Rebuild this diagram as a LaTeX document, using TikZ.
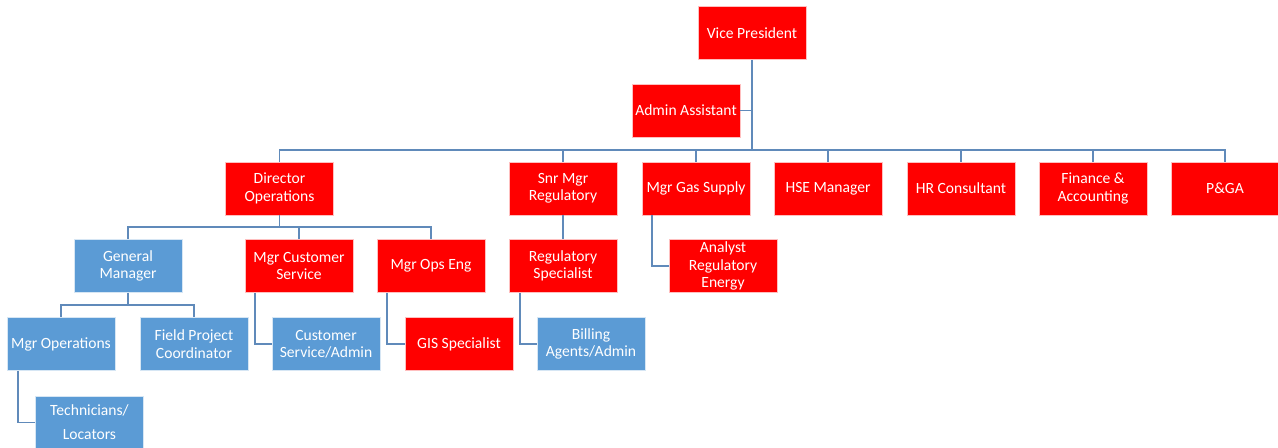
\documentclass[tikz,border=0pt]{standalone}
\usepackage{fontspec}
\setmainfont{Carlito}
\usetikzlibrary{calc}
\definecolor{boxred}{RGB}{255,0,0}
\definecolor{boxblue}{RGB}{91,155,213}
\definecolor{linkblue}{RGB}{96,138,186}
\begin{document}
\begin{tikzpicture}[x=0.75pt, y=-0.75pt,
  role/.style={minimum width=81pt, minimum height=39.75pt, inner sep=1pt,
    align=center, text=white, draw=white!75!boxred, line width=0.4pt,
    font=\fontsize{11.7}{13}\selectfont},
  redrole/.style={role, fill=boxred},
  bluerole/.style={role, fill=boxblue, draw=white!75!boxblue},
  link/.style={linkblue, line width=1.3pt}]
  \useasboundingbox (0,0) rectangle (1278,447); % page size

  % Top of the chart
  \node[redrole] (vp) at (752,33) {Vice President};
  \node[redrole] (aa) at (686,110.5) {Admin Assistant};

  % Direct reports of the VP
  \node[redrole] (dirops) at (279.5,188.5) {Director\\Operations};
  \node[redrole] (snrreg) at (563,188.5) {Snr Mgr\\Regulatory};
  \node[redrole] (gas) at (696,188.5) {Mgr Gas Supply};
  \node[redrole] (hse) at (828,188.5) {HSE Manager};
  \node[redrole] (hr) at (961,188.5) {HR Consultant};
  \node[redrole] (fin) at (1093,188.5) {Finance \&\\Accounting};
  \node[redrole] (pga) at (1225,188.5) {P\&GA};

  % Third row
  \node[bluerole] (gm) at (128,266) {General\\Manager};
  \node[redrole] (mcs) at (299,266) {Mgr Customer\\Service};
  \node[redrole] (moe) at (431,266) {Mgr Ops Eng};
  \node[redrole] (regspec) at (563,266) {Regulatory\\Specialist};
  \node[redrole] (analyst) at (723,266) {Analyst\\Regulatory\\Energy};

  % Fourth row
  \node[bluerole] (mops) at (61,344) {Mgr Operations};
  \node[bluerole] (fpc) at (194,344) {Field Project\\Coordinator};
  \node[bluerole] (csa) at (326,344) {Customer\\Service/Admin};
  \node[redrole] (gis) at (459,344) {GIS Specialist};
  \node[bluerole] (bill) at (591,344) {Billing\\Agents/Admin};
  \node[bluerole] (tech) at (89.5,422.5) {Technicians/\\[5pt]Locators};

  % Bus lines
  \coordinate (vpbus) at (752,150);
  \coordinate (dbus) at (279.5,227);
  \coordinate (gbus) at (128,305);

  \draw[link] (vp.south) -- (vpbus); % VP trunk
  \draw[link] (aa.east) -- (aa.east -| vp.south); % assistant
  \foreach \n in {dirops,snrreg,gas,hse,hr,fin,pga} {
    \draw[link] (vpbus) -| (\n.north);
  }
  \draw[link] (dirops.south) -- (dbus);
  \foreach \n in {gm,mcs,moe} {
    \draw[link] (dbus) -| (\n.north);
  }
  \draw[link] (gm.south) -- (gbus);
  \foreach \n in {mops,fpc} {
    \draw[link] (gbus) -| (\n.north);
  }
  \draw[link] (snrreg.south) -- (regspec.north);

  % Side links
  \draw[link] ($(mcs.south west)+(10,0)$) |- (csa.west);
  \draw[link] ($(moe.south west)+(10,0)$) |- (gis.west);
  \draw[link] ($(regspec.south west)+(11,0)$) |- (bill.west);
  \draw[link] ($(gas.south west)+(10,0)$) |- (analyst.west);
  \draw[link] ($(mops.south west)+(11,0)$) |- (tech.west);
\end{tikzpicture}
\end{document}
